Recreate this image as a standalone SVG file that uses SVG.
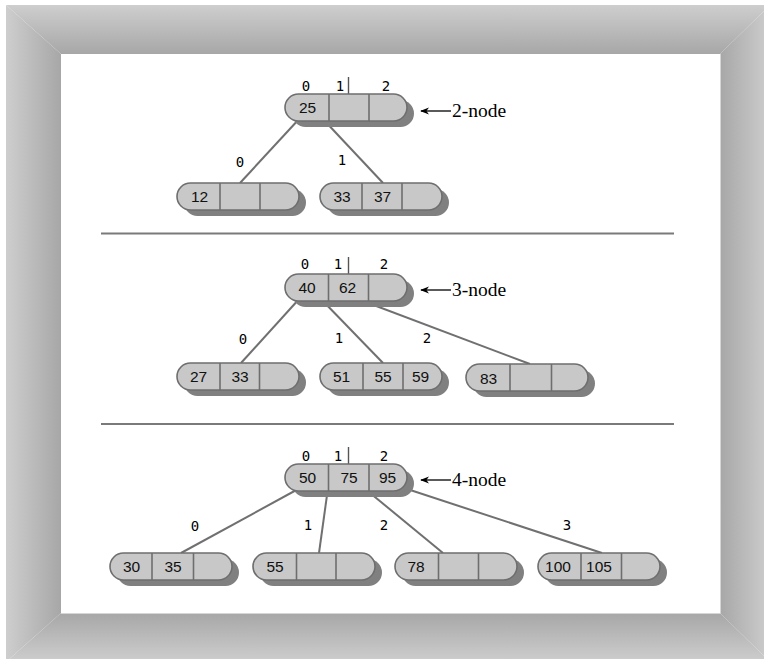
<svg xmlns="http://www.w3.org/2000/svg" width="764" height="659" viewBox="0 0 764 659">
<defs>
<linearGradient id="gTop" x1="0" y1="5" x2="0" y2="54" gradientUnits="userSpaceOnUse"><stop offset="0" stop-color="#cecece"/><stop offset="1" stop-color="#a7a7a7"/></linearGradient>
<linearGradient id="gBot" x1="0" y1="613" x2="0" y2="662" gradientUnits="userSpaceOnUse"><stop offset="0" stop-color="#a7a7a7"/><stop offset="1" stop-color="#cecece"/></linearGradient>
<linearGradient id="gLeft" x1="6" y1="0" x2="61" y2="0" gradientUnits="userSpaceOnUse"><stop offset="0" stop-color="#cecece"/><stop offset="1" stop-color="#a7a7a7"/></linearGradient>
<linearGradient id="gRight" x1="720" y1="0" x2="770" y2="0" gradientUnits="userSpaceOnUse"><stop offset="0" stop-color="#a7a7a7"/><stop offset="1" stop-color="#cecece"/></linearGradient>
<marker id="ah" viewBox="0 0 10 10" refX="1" refY="5" markerWidth="9" markerHeight="9" markerUnits="userSpaceOnUse" orient="auto"><path d="M10,1 L0,5 L10,9 L7,5 Z" fill="#000"/></marker>
</defs>
<style>
.sh{fill:#808080}
.bd{fill:#c8c8c8;stroke:#6e6e6e;stroke-width:1.6}
.dv{stroke:#6e6e6e;stroke-width:1.6}
.v{font-family:"Liberation Sans",Arial,sans-serif;font-size:15.5px;fill:#111;text-anchor:middle}
.lb{font-family:"DejaVu Sans Mono","Liberation Mono",monospace;font-size:14px;fill:#000;text-anchor:middle}
.tk{stroke:#555;stroke-width:1.4}
.ed{stroke:#707070;stroke-width:2;fill:none}
.sep{stroke:#7a7a7a;stroke-width:2}
.nm{font-family:"Liberation Serif","Times New Roman",serif;font-size:19.5px;fill:#000}
.ar{stroke:#000;stroke-width:1.3;marker-start:url(#ah)}
</style>
<g id="frame">
<rect x="0" y="0" width="764" height="659" fill="#ffffff"/>
<polygon points="6,5 770,5 720,54 61,54" fill="url(#gTop)"/>
<polygon points="6,662 770,662 720,613 61,613" fill="url(#gBot)"/>
<polygon points="6,5 61,54 61,613 6,662" fill="url(#gLeft)"/>
<polygon points="770,5 720,54 720,613 770,662" fill="url(#gRight)"/>
<rect x="61" y="54" width="659" height="559" fill="#ffffff"/>
<line x1="61" y1="613.5" x2="720.5" y2="613.5" stroke="#d6d6d6" stroke-width="1"/>
<line x1="720.5" y1="54" x2="720.5" y2="613.5" stroke="#d6d6d6" stroke-width="1"/>
</g>
<g id="separators">
<line class="sep" x1="101" y1="233.5" x2="674" y2="233.5"/>
<line class="sep" x1="101" y1="424" x2="674" y2="424"/>
</g>
<g id="connectors">
<line class="ed" x1="300" y1="118" x2="240" y2="183"/>
<line class="ed" x1="322" y1="118" x2="383" y2="183"/>
<line class="ed" x1="300" y1="298" x2="241" y2="363"/>
<line class="ed" x1="320" y1="298" x2="383" y2="363"/>
<line class="ed" x1="355" y1="298" x2="530" y2="364"/>
<line class="ed" x1="300" y1="488" x2="181" y2="553"/>
<line class="ed" x1="328" y1="488" x2="319" y2="553"/>
<line class="ed" x1="364" y1="488" x2="443" y2="553"/>
<line class="ed" x1="398" y1="486" x2="602" y2="553"/>
<line class="tk" x1="348.5" y1="77" x2="348.5" y2="94"/>
<line class="tk" x1="348.5" y1="257" x2="348.5" y2="274"/>
<line class="tk" x1="348.5" y1="447" x2="348.5" y2="464"/>
<text class="lb" x="306" y="90.5">0</text><text class="lb" x="340" y="90.5">1</text><text class="lb" x="386" y="90.5">2</text>
<text class="lb" x="240" y="167">0</text><text class="lb" x="342" y="165">1</text>
<text class="lb" x="305" y="269">0</text><text class="lb" x="338" y="269">1</text><text class="lb" x="384" y="269">2</text>
<text class="lb" x="243" y="344">0</text><text class="lb" x="339" y="343">1</text><text class="lb" x="427" y="343">2</text>
<text class="lb" x="306" y="460.5">0</text><text class="lb" x="338" y="460.5">1</text><text class="lb" x="384" y="460.5">2</text>
<text class="lb" x="195" y="531">0</text><text class="lb" x="308" y="530">1</text><text class="lb" x="384" y="530">2</text><text class="lb" x="567" y="530">3</text>
<line class="ar" x1="421" y1="111" x2="451" y2="111"/>
<text class="nm" x="452" y="116.5">2-node</text>
<line class="ar" x1="421" y1="290" x2="451" y2="290"/>
<text class="nm" x="452" y="295.5">3-node</text>
<line class="ar" x1="421" y1="480" x2="451" y2="480"/>
<text class="nm" x="452" y="485.5">4-node</text>
</g>
<g id="n1root" transform="translate(285,94)">
<rect class="sh" x="7" y="6" width="122" height="27" rx="13.5"/>
<rect class="bd" x="0" y="0" width="122" height="27" rx="13.5"/>
<line class="dv" x1="44" y1="0" x2="44" y2="27"/><line class="dv" x1="84" y1="0" x2="84" y2="27"/>
<text class="v" x="22.5" y="19">25</text>
</g>
<g id="n12" transform="translate(177,183)">
<rect class="sh" x="7" y="6" width="122" height="27" rx="13.5"/>
<rect class="bd" x="0" y="0" width="122" height="27" rx="13.5"/>
<line class="dv" x1="43" y1="0" x2="43" y2="27"/><line class="dv" x1="83" y1="0" x2="83" y2="27"/>
<text class="v" x="22.5" y="19">12</text>
</g>
<g id="n3337" transform="translate(320,183)">
<rect class="sh" x="7" y="6" width="122" height="27" rx="13.5"/>
<rect class="bd" x="0" y="0" width="122" height="27" rx="13.5"/>
<line class="dv" x1="42" y1="0" x2="42" y2="27"/><line class="dv" x1="82" y1="0" x2="82" y2="27"/>
<text class="v" x="22" y="19">33</text><text class="v" x="62.5" y="19">37</text>
</g>
<g id="n2root" transform="translate(285,274)">
<rect class="sh" x="7" y="6" width="122" height="27" rx="13.5"/>
<rect class="bd" x="0" y="0" width="122" height="27" rx="13.5"/>
<line class="dv" x1="43.5" y1="0" x2="43.5" y2="27"/><line class="dv" x1="83.5" y1="0" x2="83.5" y2="27"/>
<text class="v" x="22" y="19">40</text><text class="v" x="62.5" y="19">62</text>
</g>
<g id="n2733" transform="translate(177,363)">
<rect class="sh" x="7" y="6" width="122" height="27" rx="13.5"/>
<rect class="bd" x="0" y="0" width="122" height="27" rx="13.5"/>
<line class="dv" x1="43" y1="0" x2="43" y2="27"/><line class="dv" x1="82.5" y1="0" x2="82.5" y2="27"/>
<text class="v" x="21.5" y="19">27</text><text class="v" x="63" y="19">33</text>
</g>
<g id="n515559" transform="translate(320,363)">
<rect class="sh" x="7" y="6" width="122" height="27" rx="13.5"/>
<rect class="bd" x="0" y="0" width="122" height="27" rx="13.5"/>
<line class="dv" x1="43" y1="0" x2="43" y2="27"/><line class="dv" x1="83" y1="0" x2="83" y2="27"/>
<text class="v" x="21.5" y="19">51</text><text class="v" x="63" y="19">55</text><text class="v" x="100.5" y="19">59</text>
</g>
<g id="n83" transform="translate(466,364)">
<rect class="sh" x="7" y="6" width="122" height="27" rx="13.5"/>
<rect class="bd" x="0" y="0" width="122" height="27" rx="13.5"/>
<line class="dv" x1="44" y1="0" x2="44" y2="27"/><line class="dv" x1="85.5" y1="0" x2="85.5" y2="27"/>
<text class="v" x="22.5" y="19.5">83</text>
</g>
<g id="n3root" transform="translate(285,464)">
<rect class="sh" x="7" y="6" width="122" height="27" rx="13.5"/>
<rect class="bd" x="0" y="0" width="122" height="27" rx="13.5"/>
<line class="dv" x1="43.5" y1="0" x2="43.5" y2="27"/><line class="dv" x1="84" y1="0" x2="84" y2="27"/>
<text class="v" x="22.5" y="19">50</text><text class="v" x="64" y="19">75</text><text class="v" x="102.5" y="19">95</text>
</g>
<g id="n3035" transform="translate(110,553)">
<rect class="sh" x="7" y="6" width="122" height="27" rx="13.5"/>
<rect class="bd" x="0" y="0" width="122" height="27" rx="13.5"/>
<line class="dv" x1="42" y1="0" x2="42" y2="27"/><line class="dv" x1="83.5" y1="0" x2="83.5" y2="27"/>
<text class="v" x="21.5" y="19">30</text><text class="v" x="63" y="19">35</text>
</g>
<g id="n55" transform="translate(253,553)">
<rect class="sh" x="7" y="6" width="122" height="27" rx="13.5"/>
<rect class="bd" x="0" y="0" width="122" height="27" rx="13.5"/>
<line class="dv" x1="43.5" y1="0" x2="43.5" y2="27"/><line class="dv" x1="83" y1="0" x2="83" y2="27"/>
<text class="v" x="22" y="19">55</text>
</g>
<g id="n78" transform="translate(395,553)">
<rect class="sh" x="7" y="6" width="122" height="27" rx="13.5"/>
<rect class="bd" x="0" y="0" width="122" height="27" rx="13.5"/>
<line class="dv" x1="43.5" y1="0" x2="43.5" y2="27"/><line class="dv" x1="83.5" y1="0" x2="83.5" y2="27"/>
<text class="v" x="21" y="19">78</text>
</g>
<g id="n100105" transform="translate(538,553)">
<rect class="sh" x="7" y="6" width="122" height="27" rx="13.5"/>
<rect class="bd" x="0" y="0" width="122" height="27" rx="13.5"/>
<line class="dv" x1="43" y1="0" x2="43" y2="27"/><line class="dv" x1="83.5" y1="0" x2="83.5" y2="27"/>
<text class="v" x="20" y="19">100</text><text class="v" x="61" y="19">105</text>
</g>
</svg>
